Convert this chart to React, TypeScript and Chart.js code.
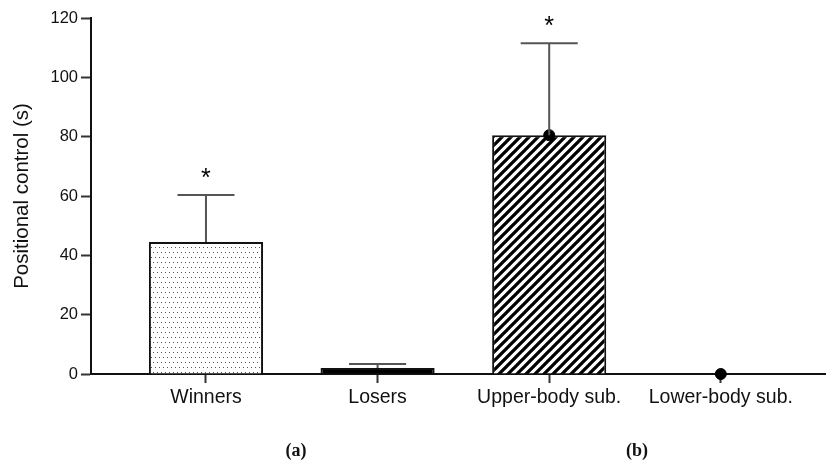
import React, { useEffect, useRef } from "react";
import { Chart, registerables } from "chart.js";

Chart.register(...registerables);

const categories = ["Winners", "Losers", "Upper-body sub.", "Lower-body sub."];
const means = [44.5, 2, 80.5, 0];
const sds = [15.8, 1.4, 31, 0];
const pointValues: (number | null)[] = [null, null, 80.5, 0];
const significance = ["*", "", "*", ""];
const yTicks = [0, 20, 40, 60, 80, 100, 120];
const panelLabels = ["(a)", "(b)"];

const FONT = "'Liberation Sans', Arial, sans-serif";

function makeDots(): CanvasPattern | string {
  const c = document.createElement("canvas");
  c.width = 4;
  c.height = 10;
  const x = c.getContext("2d");
  if (!x) return "#fff";
  x.fillStyle = "#ffffff";
  x.fillRect(0, 0, 4, 10);
  x.fillStyle = "#555";
  x.fillRect(1, 2, 1, 1);
  x.fillRect(3, 7, 1, 1);
  return x.createPattern(c, "repeat") || "#fff";
}

function makeStripes(): CanvasPattern | string {
  const s = 9;
  const c = document.createElement("canvas");
  c.width = s;
  c.height = s;
  const x = c.getContext("2d");
  if (!x) return "#000";
  x.fillStyle = "#ffffff";
  x.fillRect(0, 0, s, s);
  x.strokeStyle = "#000";
  x.lineWidth = 3.3;
  x.beginPath();
  for (const cc of [0, s, 2 * s]) {
    x.moveTo(cc + 3, -3);
    x.lineTo(cc - s - 3, s + 3);
  }
  x.stroke();
  return x.createPattern(c, "repeat") || "#000";
}

export default function App() {
  const ref = useRef<HTMLCanvasElement | null>(null);

  useEffect(() => {
    if (!ref.current) return;
    const fills = [makeDots(), "#000000", makeStripes(), "#ffffff"];

    const overlay = {
      id: "overlay",
      afterDatasetsDraw(chart: any) {
        const ctx = chart.ctx;
        const xs = chart.scales.x;
        const ys = chart.scales.y;
        const meta = chart.getDatasetMeta(0);
        ctx.save();
        means.forEach((m, i) => {
          const bar = meta.data[i] as any;
          const cx = xs.getPixelForValue(i);
          const half = bar.width / 4;
          if (sds[i] > 0) {
            const y0 = ys.getPixelForValue(m);
            const y1 = ys.getPixelForValue(m + sds[i]);
            ctx.strokeStyle = "#555";
            ctx.lineWidth = 2;
            ctx.beginPath();
            ctx.moveTo(cx, y0);
            ctx.lineTo(cx, y1);
            ctx.moveTo(cx - half, y1);
            ctx.lineTo(cx + half, y1);
            ctx.stroke();
          }
          if (significance[i]) {
            const yTop = ys.getPixelForValue(m + sds[i]);
            ctx.fillStyle = "#000";
            ctx.font = `25px ${FONT}`;
            ctx.textAlign = "center";
            ctx.textBaseline = "alphabetic";
            ctx.fillText(significance[i], cx, yTop - 9);
          }
        });
        ctx.restore();
      },
    };

    const chart = new Chart(ref.current, {
      type: "bar",
      data: {
        datasets: [
          {
            type: "bar",
            data: means.map((v, i) => ({ x: i, y: v })),
            backgroundColor: fills as any,
            borderColor: "#111",
            borderWidth: 2,
            barPercentage: 0.665,
            categoryPercentage: 1,
            order: 2,
          } as any,
          {
            type: "line",
            data: pointValues.map((v, i) => ({ x: i, y: v })),
            showLine: false,
            clip: false,
            pointRadius: 5.5,
            pointBackgroundColor: "#000",
            pointBorderColor: "#000",
            order: 0,
          } as any,
        ],
      },
      options: {
        animation: false,
        responsive: false,
        events: [],
        layout: { padding: { top: 18, right: 0, left: 0, bottom: 0 } },
        plugins: { legend: { display: false }, tooltip: { enabled: false } },
        scales: {
          x: {
            type: "linear",
            min: -0.67,
            max: 3.61,
            offset: false,
            afterBuildTicks(scale: any) {
              scale.ticks = categories.map((_, i) => ({ value: i }));
            },
            afterFit(scale: any) {
              scale.height = 461 - 374;
            },
            ticks: {
              callback: (v: any) => categories[v] ?? "",
              color: "#111",
              font: { family: FONT, size: 19.5 },
              padding: 3,
              maxRotation: 0,
              autoSkip: false,
            },
            grid: {
              offset: false,
              drawOnChartArea: false,
              drawTicks: true,
              tickLength: 9,
              tickWidth: 2,
              tickColor: "#333",
              color: "#333",
            },
            border: { display: true, color: "#111", width: 2 },
          },
          y: {
            min: 0,
            max: 120,
            afterBuildTicks(scale: any) {
              scale.ticks = yTicks.map((v) => ({ value: v }));
            },
            afterFit(scale: any) {
              scale.width = 91;
            },
            title: {
              display: true,
              text: "Positional control (s)",
              color: "#111",
              font: { family: FONT, size: 20.5 },
              padding: { top: 10, bottom: 0 },
            },
            ticks: {
              color: "#111",
              font: { family: FONT, size: 16.5 },
              padding: 3,
            },
            grid: {
              drawOnChartArea: false,
              drawTicks: true,
              tickLength: 10,
              tickWidth: 2,
              tickColor: "#333",
            },
            border: { display: true, color: "#111", width: 2 },
          },
        },
      },
      plugins: [overlay],
    } as any);

    return () => chart.destroy();
  }, []);

  const labelStyle = (left: number): React.CSSProperties => ({
    position: "absolute",
    left,
    top: 450,
    transform: "translate(-50%, -50%)",
    fontFamily: "'Liberation Serif', serif",
    fontWeight: "bold",
    fontSize: 18,
    color: "#111",
    lineHeight: 1,
  });

  return (
    <div style={{ position: "absolute", left: 0, top: 0, width: 832, height: 461, background: "#fff" }}>
      <canvas ref={ref} width={832} height={461} style={{ display: "block" }} />
      <span style={labelStyle(296)}>{panelLabels[0]}</span>
      <span style={labelStyle(637)}>{panelLabels[1]}</span>
    </div>
  );
}
